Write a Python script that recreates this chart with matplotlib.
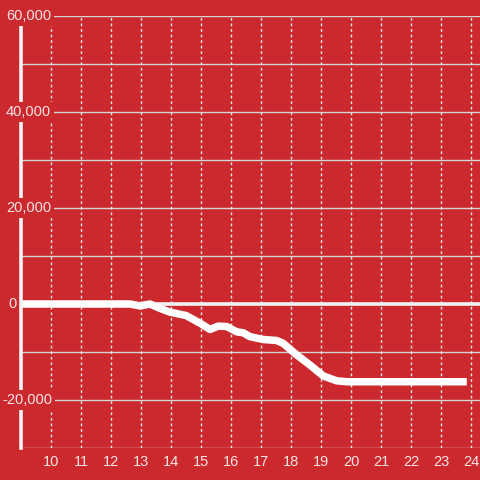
import matplotlib
matplotlib.use("Agg")
import matplotlib.pyplot as plt
import matplotlib.transforms as mtransforms

# data
hours = [9.0, 12.63, 12.97, 13.3, 13.63, 13.97, 14.5, 14.97, 15.3, 15.58, 15.86,
         16.19, 16.41, 16.63, 17.08, 17.52, 17.74, 18.19, 18.63, 19.08, 19.52,
         19.86, 23.86]
values = [0, 0, -400, 0, -900, -1700, -2400, -4000, -5300, -4600, -4700,
          -5800, -6000, -6800, -7400, -7600, -8200, -10600, -12700, -15000,
          -16000, -16200, -16200]
x_ticks = list(range(10, 25))
y_grid = list(range(-30000, 60001, 10000))
y_labels = [60000, 40000, 20000, 0, -20000]

bg = "#cc292e"
txt = "#f6e4e4"
plt.rcParams["font.family"] = ["Liberation Sans", "DejaVu Sans"]

fig = plt.figure(figsize=(4.8, 4.8), dpi=100, facecolor=bg)
ax = fig.add_axes([21 / 480, 32 / 480, 459 / 480, 432 / 480], facecolor=bg)
ax.set_xlim(9, 24.3)
ax.set_ylim(-30000, 60000)

for v in y_grid:
    ax.axhline(v, color="#d4d4d4", lw=1, zorder=1)
for t in x_ticks:
    ax.axvline(t, color="#e6e6e6", lw=1, ls=(0, (2, 2)), zorder=1)

ax.axhline(0, color="#f2f2f2", lw=2.6, zorder=2)
ax.plot(hours, values, color="white", lw=5.4, solid_joinstyle="round",
        solid_capstyle="butt", zorder=3)

for s in ["top", "right", "bottom"]:
    ax.spines[s].set_visible(False)
ax.spines["left"].set_color("#f2f2f2")
ax.spines["left"].set_linewidth(2.6)
ax.spines["left"].set_zorder(4)

ax.set_xticks(x_ticks)
ax.set_xticklabels([str(t) for t in x_ticks])
ax.tick_params(axis="x", length=0, pad=5, labelsize=10.5, colors=txt)
ax.set_yticks([])

# y labels sit over the axis line on a red box
trans = mtransforms.blended_transform_factory(fig.transFigure, ax.transData)
for v in y_labels:
    xpos = (6 if v >= 0 else 2) / 480
    if v == 0:
        xpos = 8 / 480
    ax.text(xpos, v, "{:,}".format(v), transform=trans,
            ha="left", va="center", fontsize=10.5, color=txt, zorder=10,
            clip_on=False,
            bbox=dict(boxstyle="square,pad=0.2", facecolor=bg, edgecolor="none"))

fig.savefig("out.png", dpi=100, facecolor=bg)
